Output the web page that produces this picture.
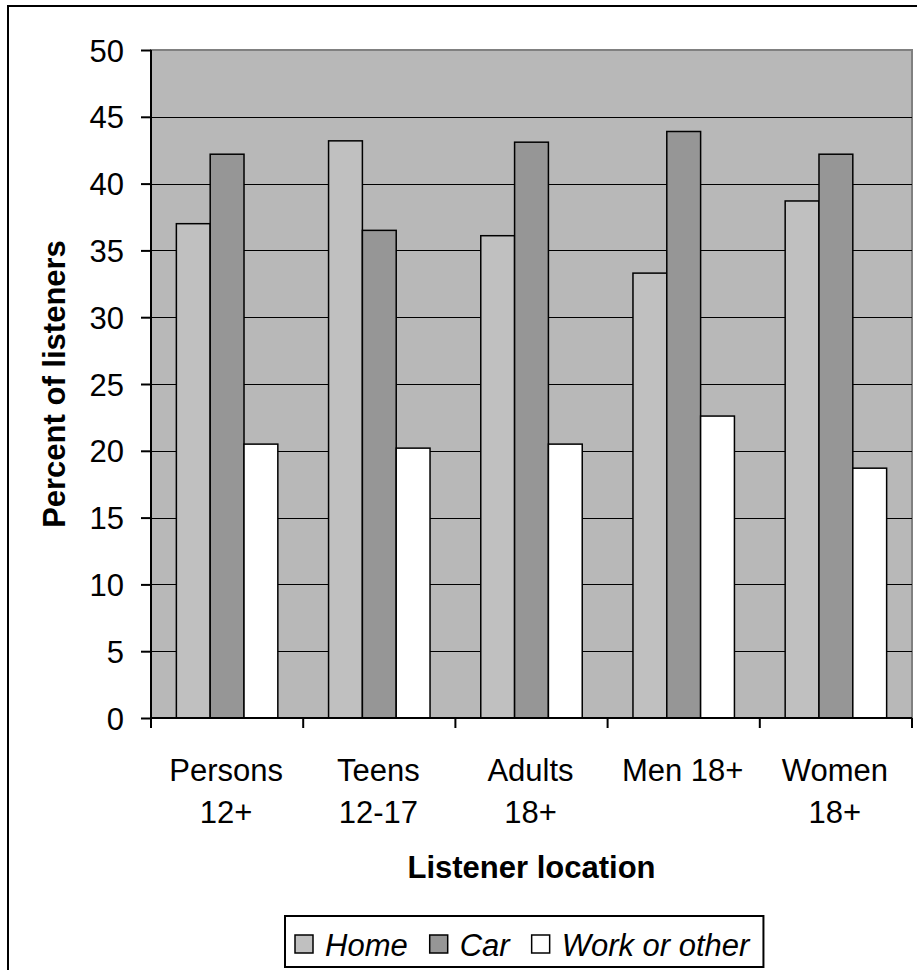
<!DOCTYPE html>
<html>
<head>
<meta charset="utf-8">
<script src="https://cdn.jsdelivr.net/npm/d3@7"></script>
<style>
  body { margin: 0; background: #fff; }
  text { font-family: Arial, "Liberation Sans", sans-serif; fill: #000; }
</style>
</head>
<body>
<div id="chart"></div>
<script>
// data
let categories = [["Persons", "12+"], ["Teens", "12-17"], ["Adults", "18+"], ["Men 18+"], ["Women", "18+"]];
let seriesNames = ["Home", "Car", "Work or other"];
let home = [37.0, 43.2, 36.1, 33.3, 38.7];
let car = [42.2, 36.5, 43.1, 43.9, 42.2];
let work = [20.5, 20.2, 20.5, 22.6, 18.7];
let yTicks = [0, 5, 10, 15, 20, 25, 30, 35, 40, 45, 50];

let colors = ["#c0c0c0", "#969696", "#ffffff"];

var w = 917,
  h = 970,
  fontSize = 31;

let margin = { left: 151, right: 5, top: 50, bottom: 252 };

let svg = d3
  .select("#chart")
  .append("svg")
  .attr("width", w)
  .attr("height", h);

// outer chart border (cut off at the right and bottom)
svg
  .append("rect")
  .attr("x", 8)
  .attr("y", 6)
  .attr("width", w + 20)
  .attr("height", h + 20)
  .attr("fill", "white")
  .attr("stroke", "black")
  .attr("stroke-width", 2);

let catKeys = categories.map((c) => c.join(" "));
let values = [home, car, work];

let x0 = d3
  .scaleBand()
  .domain(catKeys)
  .range([margin.left, w - margin.right]);

let bw = x0.bandwidth() / 4.5;
let x1 = d3
  .scaleBand()
  .domain(seriesNames)
  .range([bw * 0.75, bw * 3.75]);

let y = d3
  .scaleLinear()
  .domain([0, 50])
  .range([h - margin.bottom, margin.top]);

// plot area
svg
  .append("rect")
  .attr("x", margin.left)
  .attr("y", y(50))
  .attr("width", w - margin.right - margin.left)
  .attr("height", y(0) - y(50))
  .attr("fill", "#b8b8b8")
  .attr("stroke", "#808080")
  .attr("stroke-width", 2);

// gridlines
svg
  .append("g")
  .selectAll("line")
  .data(yTicks.slice(1, -1))
  .enter()
  .append("line")
  .attr("x1", margin.left)
  .attr("x2", w - margin.right)
  .attr("y1", (d) => Math.round(y(d)) + 0.5)
  .attr("y2", (d) => Math.round(y(d)) + 0.5)
  .attr("stroke", "black")
  .attr("stroke-width", 1.2);

// bars
let rows = [];
catKeys.forEach((c, i) => {
  seriesNames.forEach((s, j) => {
    rows.push({ cat: c, series: s, value: values[j][i], color: colors[j] });
  });
});

svg
  .append("g")
  .selectAll("rect")
  .data(rows)
  .enter()
  .append("rect")
  .attr("x", (d) => x0(d.cat) + x1(d.series))
  .attr("y", (d) => y(d.value))
  .attr("width", x1.bandwidth())
  .attr("height", (d) => y(0) - y(d.value))
  .attr("fill", (d) => d.color)
  .attr("stroke", "black")
  .attr("stroke-width", 1.5);

// y axis
let yAxis = d3
  .axisLeft(y)
  .tickValues(yTicks)
  .tickSize(10)
  .tickPadding(17)
  .tickFormat(d3.format("d"));

let gy = svg
  .append("g")
  .attr("transform", "translate(" + margin.left + ",0)")
  .call(yAxis);
gy.selectAll("path, line").attr("stroke", "black").attr("stroke-width", 2);
gy.selectAll("text")
  .style("font-size", fontSize + "px")
  .attr("dy", "0.36em");
gy.select(".domain").attr("d", "M0," + y(50) + "V" + (y(0) + 1));

// x axis with ticks on category boundaries
let bounds = catKeys.map((c) => x0(c)).concat([w - margin.right]);
let gx = svg.append("g");
gx.append("line")
  .attr("x1", margin.left - 1)
  .attr("x2", w - margin.right)
  .attr("y1", y(0))
  .attr("y2", y(0))
  .attr("stroke", "black")
  .attr("stroke-width", 2);
gx.selectAll(".tick")
  .data(bounds)
  .enter()
  .append("line")
  .attr("x1", (d) => d)
  .attr("x2", (d) => d)
  .attr("y1", y(0))
  .attr("y2", y(0) + 10)
  .attr("stroke", "black")
  .attr("stroke-width", 2);

let labels = gx
  .selectAll("text")
  .data(categories)
  .enter()
  .append("text")
  .attr("text-anchor", "middle")
  .style("font-size", fontSize + "px")
  .attr("transform", (d, i) => "translate(" + (x0(catKeys[i]) + x0.bandwidth() / 2 - 1) + ",0)");

labels
  .selectAll("tspan")
  .data((d) => d)
  .enter()
  .append("tspan")
  .attr("x", 0)
  .attr("y", (d, i) => 781 + i * 41.5)
  .text((d) => d);

// axis titles
svg
  .append("text")
  .attr("text-anchor", "middle")
  .attr("x", (margin.left + w - margin.right) / 2)
  .attr("y", 878)
  .style("font-size", fontSize + "px")
  .style("font-weight", "bold")
  .text("Listener location");

svg
  .append("text")
  .attr("text-anchor", "middle")
  .attr("transform", "translate(65," + (y(0) + y(50)) / 2 + ") rotate(-90)")
  .style("font-size", fontSize + "px")
  .style("font-weight", "bold")
  .text("Percent of listeners");

// legend
let legend = svg.append("g").attr("id", "legend");
let legendBox = legend
  .append("rect")
  .attr("x", 285)
  .attr("y", 916)
  .attr("height", 51)
  .attr("fill", "white")
  .attr("stroke", "black")
  .attr("stroke-width", 2);

let lx = 295;
seriesNames.forEach((s, i) => {
  legend
    .append("rect")
    .attr("x", lx)
    .attr("y", 935)
    .attr("width", 18)
    .attr("height", 18)
    .attr("fill", colors[i])
    .attr("stroke", "black")
    .attr("stroke-width", 1.5);
  let t = legend
    .append("text")
    .attr("x", lx + 30)
    .attr("y", 956)
    .style("font-size", fontSize + "px")
    .style("font-style", "italic")
    .text(s);
  lx += 30 + t.node().getComputedTextLength() + 22;
});
legendBox.attr("width", lx - 22 + 14 - 285);
</script>
</body>
</html>
